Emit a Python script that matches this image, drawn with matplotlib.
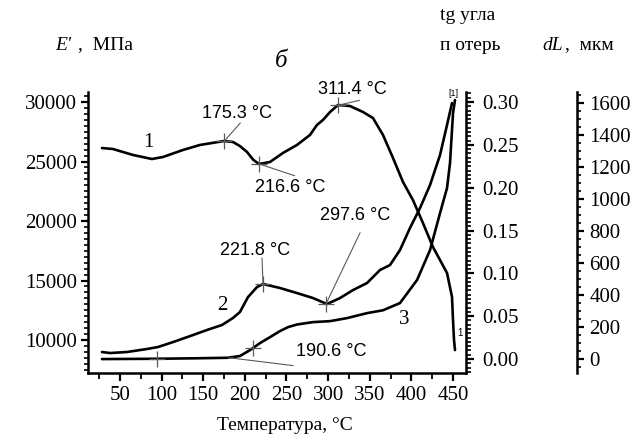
import numpy as np
import matplotlib.pyplot as plt
from matplotlib.ticker import MultipleLocator

# ── data ────────────────────────────────────────────────────────────────────
# curve 1: storage modulus E', MPa (left axis)
t1 = [28.4, 41.6, 65.6, 88.4, 101.7, 125.7, 146.1, 174.9, 185.7, 194.0, 202.6,
      210.0, 217.0, 230.2, 245.8, 262.6, 278.2, 286.6, 293.8, 302.3, 311.9,
      326.3, 341.9, 353.9, 365.9, 377.9, 389.9, 401.9, 413.9, 425.9, 434.4,
      442.8, 448.8, 450.0, 451.2, 452.4]
e1 = [26130, 26050, 25550, 25210, 25380, 25970, 26390, 26720, 26640, 26300,
      25800, 25150, 24790, 24960, 25720, 26390, 27230, 28070, 28490, 29160,
      29750, 29660, 29160, 28650, 27230, 25300, 23280, 21760, 19830, 17820,
      16720, 15630, 13620, 11680, 10000, 9160]

# curve 2: loss tangent (middle axis)
t2 = [28.4, 38.0, 58.4, 82.4, 95.6, 113.7, 137.7, 154.5, 172.5, 185.7, 194.1,
      203.8, 214.6, 221.8, 242.2, 262.6, 281.8, 298.6, 314.3, 329.9, 346.7,
      362.3, 374.3, 386.3, 398.3, 410.4, 422.4, 434.4, 442.8, 448.8]
tg2 = [0.0082, 0.0070, 0.0082, 0.0117, 0.0140, 0.0198, 0.0280, 0.0339, 0.0397,
       0.0479, 0.0549, 0.0724, 0.0840, 0.0876, 0.0829, 0.0770, 0.0712, 0.0642,
       0.0712, 0.0805, 0.0887, 0.1039, 0.1097, 0.1272, 0.1529, 0.1763, 0.2031,
       0.2381, 0.2732, 0.2988]

# curve 3: dilatometry dL, um (far right axis)
t3 = [28.4, 94.4, 142.5, 178.5, 194.1, 206.2, 218.2, 230.2, 242.2, 252.0,
      262.6, 281.8, 302.3, 322.7, 346.7, 365.9, 386.3, 406.8, 422.4, 434.4,
      442.8, 446.4, 450.0, 452.4]
dl3 = [0, 2, 5, 8, 19, 56, 100, 137, 175, 200, 216, 231, 237, 256, 287, 305,
       350, 494, 681, 912, 1069, 1225, 1537, 1619]

# marked temperatures
marks1 = [175.3, 216.6, 311.4]
marks2 = [221.8, 297.6]
marks3 = [94.0, 210.0]

W, H = 644, 445


def fx(px):
    return px / W


def fy(py):
    return 1 - py / H


serif = "Liberation Serif"
sans = "Liberation Sans"

fig = plt.figure(figsize=(6.44, 4.45), dpi=100)
ax = fig.add_axes([fx(88), fy(373), fx(466) - fx(88), fy(92) - fy(373)])
ax2 = ax.twinx()
ax3 = ax.twinx()

line = dict(color="black", lw=1.9, solid_joinstyle="round", solid_capstyle="round")
ax.plot(t1, e1, **line)
ax2.plot(t2, tg2, **line)
ax3.plot(t3, dl3, **line)

ax.set_xlim(11.6, 465.6)
ax.set_ylim(7230, 30840)
ax2.set_ylim(-0.0163, 0.3117)
ax3.set_ylim(-87, 1669)

# spines
for s in ["top", "right"]:
    ax.spines[s].set_visible(False)
for s in ["top", "left", "bottom"]:
    ax2.spines[s].set_visible(False)
    ax3.spines[s].set_visible(False)
ax3.spines["right"].set_position(("axes", (577 - 88) / (466 - 88)))
for a, s in [(ax, "left"), (ax, "bottom"), (ax2, "right"), (ax3, "right")]:
    a.spines[s].set_linewidth(1.8)

# ticks
ax.xaxis.set_minor_locator(MultipleLocator(25))
ax.set_xticks(np.arange(50, 451, 50))
ax.yaxis.set_minor_locator(MultipleLocator(500))
ax.set_yticks(np.arange(10000, 30001, 5000))
ax2.set_yticks(np.arange(0, 0.301, 0.05))
ax2.yaxis.set_minor_locator(MultipleLocator(0.005))
ax2.set_yticklabels([f"{v:.2f}" for v in np.arange(0, 0.301, 0.05)])
ax3.set_yticks(np.arange(0, 1601, 200))
ax3.yaxis.set_minor_locator(MultipleLocator(50))

ax.tick_params(axis="x", which="major", direction="out", length=6, width=1.6, pad=3)
ax.tick_params(axis="x", which="minor", direction="out", length=4, width=1.3)
ax.tick_params(axis="y", which="major", direction="out", length=5, width=1.6, pad=3)
ax.tick_params(axis="y", which="minor", direction="out", length=3, width=1.2)
ax2.tick_params(axis="y", which="major", direction="out", length=6, width=1.6, pad=6)
ax2.tick_params(axis="y", which="minor", direction="out", length=3.5, width=1.2)
ax3.tick_params(axis="y", which="major", direction="out", length=5, width=1.6, pad=4)
ax3.tick_params(axis="y", which="minor", direction="out", length=3, width=1.2)

for a in (ax, ax2, ax3):
    for lab in a.get_xticklabels() + a.get_yticklabels():
        lab.set_fontfamily(serif)
        lab.set_fontsize(15)

# marker crosses and leader lines
cross = dict(marker="+", ms=11, mew=0.9, color="0.35", ls="none", zorder=4)
y1 = np.interp(marks1, t1, e1)
y2 = np.interp(marks2, t2, tg2)
y3 = np.interp(marks3, t3, dl3)
ax.plot(marks1, y1, **cross)
ax2.plot(marks2, y2, **cross)
ax3.plot(marks3, y3, **cross)

lead = dict(arrowstyle="-", lw=0.8, color="0.35", shrinkA=0, shrinkB=0)
for a, xy, off in [
    (ax, (marks1[0], y1[0]), (16, 18)),
    (ax, (marks1[1], y1[1]), (36, -12)),
    (ax, (marks1[2], y1[2]), (22, 5)),
    (ax2, (marks2[0], y2[0]), (-1, 26)),
    (ax2, (marks2[1], y2[1]), (34, 71)),
    (ax3, (180, np.interp(180, t3, dl3)), (65, -8)),
]:
    a.annotate("", xy=xy, xytext=off, textcoords="offset pixels", arrowprops=lead)

# temperature labels
for txt, px, py in [
    ("175.3 °C", 202, 113), ("216.6 °C", 255, 188), ("311.4 °C", 318, 89),
    ("221.8 °C", 220, 250), ("297.6 °C", 320, 215), ("190.6 °C", 296, 352),
]:
    fig.text(fx(px), fy(py), txt, family=sans, fontsize=13, ha="left", va="center")

# curve numbers
for txt, px, py in [("1", 148, 142), ("2", 222, 306), ("3", 404, 319)]:
    fig.text(fx(px), fy(py), txt, family=serif, fontsize=15, ha="center", va="center")
fig.text(fx(453), fy(93), "[1]", family=sans, fontsize=6.5, ha="center", va="center")
fig.text(fx(460), fy(333), "1", family=sans, fontsize=7, ha="center", va="center")

# axis titles
fig.text(fx(55), fy(45), "E'", family=serif, style="italic", fontsize=14, va="center")
fig.text(fx(78), fy(45), ",  МПа", family=serif, fontsize=14, va="center")
fig.text(fx(281), fy(61), "б", family=serif, style="italic", fontsize=18,
         ha="center", va="center")
fig.text(fx(440), fy(16), "tg угла", family=serif, fontsize=14, va="center")
fig.text(fx(440), fy(45), "п отерь", family=serif, fontsize=14, va="center")
fig.text(fx(542), fy(45), "dL", family=serif, style="italic", fontsize=14, va="center")
fig.text(fx(565), fy(45), ",  мкм", family=serif, fontsize=14, va="center")
fig.text(fx(285), fy(426), "Температура, °C", family=serif, fontsize=14,
         ha="center", va="center")

plt.savefig("out.png", dpi=100)
